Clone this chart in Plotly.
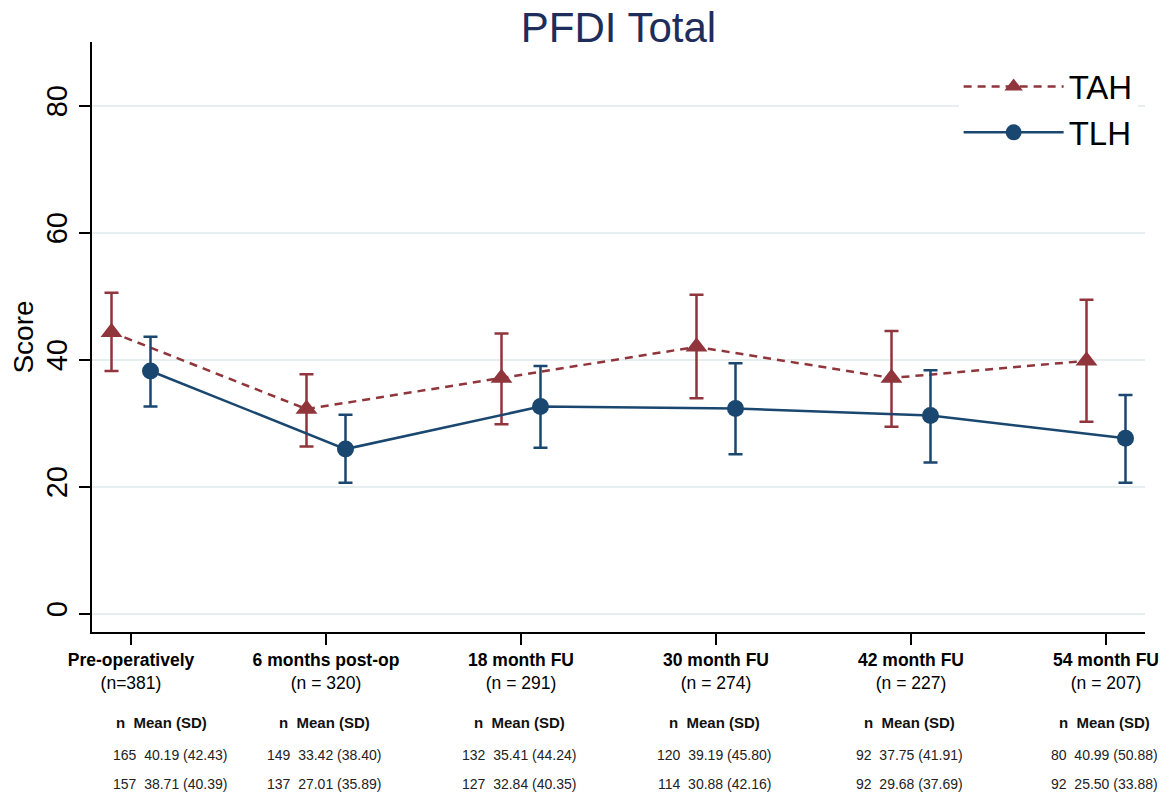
import plotly.graph_objects as go

# ---- data ----
categories = ["Pre-operatively", "6 months post-op", "18 month FU",
              "30 month FU", "42 month FU", "54 month FU"]
cat_n = ["(n=381)", "(n = 320)", "(n = 291)", "(n = 274)", "(n = 227)", "(n = 207)"]

tah_mean = [44.3, 32.2, 37.1, 42.0, 37.1, 39.8]
tah_upper = [50.5, 37.7, 44.1, 50.2, 44.5, 49.4]
tah_lower = [38.2, 26.3, 29.8, 33.9, 29.4, 30.2]

tlh_mean = [38.2, 25.9, 32.6, 32.3, 31.2, 27.6]
tlh_upper = [43.6, 31.3, 39.0, 39.4, 38.3, 34.4]
tlh_lower = [32.6, 20.6, 26.1, 25.1, 23.8, 20.6]

# table under the axis
tah_n = [165, 149, 132, 120, 92, 80]
tah_tab_mean = [40.19, 33.42, 35.41, 39.19, 37.75, 40.99]
tah_tab_sd = [42.43, 38.40, 44.24, 45.80, 41.91, 50.88]
tlh_n = [157, 137, 127, 114, 92, 92]
tlh_tab_mean = [38.71, 27.01, 32.84, 30.88, 29.68, 25.50]
tlh_tab_sd = [40.39, 35.89, 40.35, 42.16, 37.69, 33.88]

y_ticks = [0, 20, 40, 60, 80]

# ---- styling ----
TAH_COL = "#90353B"
TLH_COL = "#1A476F"
FONT = "Arial, Liberation Sans, sans-serif"

pos = list(range(1, len(categories) + 1))
off = 0.1
x_tah = [p - off for p in pos]
x_tlh = [p + off for p in pos]

fig = go.Figure()

fig.add_trace(go.Scatter(
    x=x_tah, y=tah_mean, name="TAH", mode="lines+markers",
    legendgroup="a",
    line=dict(color=TAH_COL, width=2.5, dash="8px,6px"),
    marker=dict(symbol="triangle-up", size=19, color=TAH_COL),
    error_y=dict(type="data", symmetric=False,
                 array=[u - m for u, m in zip(tah_upper, tah_mean)],
                 arrayminus=[m - l for m, l in zip(tah_mean, tah_lower)],
                 color=TAH_COL, thickness=2.5, width=7),
))
fig.add_trace(go.Scatter(
    x=x_tlh, y=tlh_mean, name="TLH", mode="lines+markers",
    legendgroup="b",
    line=dict(color=TLH_COL, width=2.5),
    marker=dict(symbol="circle", size=17, color=TLH_COL),
    error_y=dict(type="data", symmetric=False,
                 array=[u - m for u, m in zip(tlh_upper, tlh_mean)],
                 arrayminus=[m - l for m, l in zip(tlh_mean, tlh_lower)],
                 color=TLH_COL, thickness=2.5, width=7),
))

ticktext = [f"<b>{c}</b><br>{n}" for c, n in zip(categories, cat_n)]

# table annotations
annotations = []
plot_top, plot_bot = 42, 632
def ypaper(pix):
    return (plot_bot - pix) / (plot_bot - plot_top)

for i, p in enumerate(pos):
    hx = p + (0.155 if i == 0 else -0.01)
    vx = p + (0.2 if i == 0 else -0.01)
    annotations.append(dict(
        x=hx, y=ypaper(722), xref="x", yref="paper", showarrow=False,
        text="<b>n\u00a0\u00a0Mean (SD)</b>", xanchor="center", yanchor="middle",
        font=dict(family=FONT, size=15, color="#111111")))
    annotations.append(dict(
        x=vx, y=ypaper(755), xref="x", yref="paper", showarrow=False,
        text=f"{tah_n[i]}\u00a0\u00a0{tah_tab_mean[i]:.2f} ({tah_tab_sd[i]:.2f})",
        xanchor="center", yanchor="middle",
        font=dict(family=FONT, size=14, color="#222222")))
    annotations.append(dict(
        x=vx, y=ypaper(784), xref="x", yref="paper", showarrow=False,
        text=f"{tlh_n[i]}\u00a0\u00a0{tlh_tab_mean[i]:.2f} ({tlh_tab_sd[i]:.2f})",
        xanchor="center", yanchor="middle",
        font=dict(family=FONT, size=14, color="#222222")))

fig.update_layout(
    width=1173, height=798,
    margin=dict(l=92, r=28, t=plot_top, b=798 - plot_bot),
    paper_bgcolor="white", plot_bgcolor="white",
    font=dict(family=FONT, color="black"),
    title=dict(text="PFDI Total", x=0.5, xref="paper", xanchor="center",
               y=1 - 27 / 798, yref="container", yanchor="middle",
               font=dict(family=FONT, size=42, color="#1E2D5A")),
    xaxis=dict(
        range=[0.8, 6.2], tickmode="array", tickvals=pos, ticktext=ticktext,
        showgrid=False, zeroline=False, showline=True, linecolor="black",
        linewidth=2, ticks="outside", ticklen=11, tickwidth=2, tickcolor="black",
        tickfont=dict(family=FONT, size=17.5, color="black"), automargin=False,
    ),
    yaxis=dict(
        range=[-2.9, 90], tickmode="array", tickvals=y_ticks,
        showgrid=True, gridcolor="#E6EEF0", gridwidth=2, zeroline=False,
        showline=True, linecolor="black", linewidth=2,
        ticks="outside", ticklen=11, tickwidth=2, tickcolor="black",
        tickangle=-90, tickfont=dict(family=FONT, size=29, color="black"),
        automargin=False,
        title=dict(text="Score", font=dict(family=FONT, size=28, color="black"),
                   standoff=0),
    ),
    legend=dict(
        x=0.993, xanchor="right", y=0.972, yanchor="top",
        bgcolor="white", borderwidth=0, traceorder="grouped",
        tracegroupgap=0, itemwidth=100,
        font=dict(family=FONT, size=33, color="black"),
    ),
    annotations=annotations,
)

fig.write_html("out.html",
               config={"displayModeBar": False},
               post_script="document.body.style.margin='0';document.body.style.padding='0';")
